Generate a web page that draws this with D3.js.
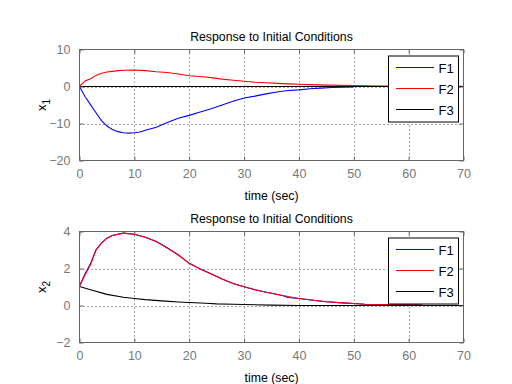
<!DOCTYPE html>
<html>
<head>
<meta charset="UTF-8">
<script src="https://cdn.jsdelivr.net/npm/d3@7"></script>
<style>
  body { margin: 0; background: #fff; }
  text { font-family: "Liberation Sans", Arial, sans-serif; }
</style>
</head>
<body>
<script>
    // Zeitachsen und Werte
    let tX1F1 = [0, 1, 2, 3, 4, 5, 6, 7, 8, 9, 10, 11, 12, 14, 16, 18, 20, 22, 24, 26, 28, 30, 32, 34, 36, 38, 40, 42, 44, 46, 48, 50];
    let x1F1 = [0, -2.7, -4.9, -7.1, -9.2, -10.7, -11.6, -12.2, -12.5, -12.6, -12.5, -12.3, -11.8, -11.0, -9.7, -8.6, -7.8, -6.9, -6.0, -5.0, -4.0, -3.1, -2.6, -2.0, -1.5, -1.1, -0.9, -0.6, -0.45, -0.27, -0.18, -0.1];

    let tX1F2 = [0, 1, 2, 3, 4, 5, 6, 7, 8, 10, 12, 14, 16, 18, 20, 22, 24, 26, 28, 30, 32, 34, 36, 38, 40, 42, 45, 50, 55, 60, 65, 70];
    let x1F2 = [0, 1.5, 2.1, 3.0, 3.6, 3.9, 4.1, 4.3, 4.4, 4.45, 4.3, 4.0, 3.8, 3.4, 2.9, 2.7, 2.4, 2.0, 1.7, 1.4, 1.15, 1.0, 0.85, 0.7, 0.6, 0.5, 0.38, 0.25, 0.15, 0.1, 0.07, 0.05];

    let tX1F3 = [0, 70];
    let x1F3 = [0, 0];

    let tX2F1 = [0, 1, 2, 3, 4, 5, 6, 8, 10, 12, 14, 16, 18, 20, 22, 24, 26, 28, 30, 32, 34, 35, 37, 38, 40, 43, 45, 48, 50, 52, 56, 60, 62.5];
    let x2F1 = [1.05, 1.7, 2.25, 3.0, 3.37, 3.64, 3.78, 3.91, 3.85, 3.69, 3.46, 3.12, 2.75, 2.28, 1.97, 1.72, 1.43, 1.19, 1.01, 0.85, 0.72, 0.66, 0.54, 0.43, 0.38, 0.27, 0.2, 0.14, 0.11, 0.07, 0.05, 0.04, 0.03];

    let tX2F2 = [0, 1, 2, 3, 4, 5, 6, 8, 10, 12, 14, 16, 18, 20, 22, 24, 26, 28, 30, 32, 34, 35, 37, 40, 43, 45, 48, 50, 52, 56, 60, 62.5];
    let x2F2 = [1.05, 1.65, 2.2, 3.0, 3.37, 3.64, 3.78, 3.91, 3.85, 3.69, 3.46, 3.1, 2.73, 2.28, 1.97, 1.7, 1.43, 1.19, 1.01, 0.85, 0.72, 0.66, 0.54, 0.38, 0.27, 0.2, 0.14, 0.11, 0.07, 0.05, 0.04, 0.03];

    let tX2F3 = [0, 2, 5, 8, 10, 12, 15, 18, 20, 23, 25, 28, 30, 35, 40, 70];
    let x2F3 = [1.03, 0.85, 0.6, 0.45, 0.38, 0.32, 0.25, 0.19, 0.16, 0.12, 0.09, 0.07, 0.05, 0.02, 0, 0];

    let xTicks = [0, 10, 20, 30, 40, 50, 60, 70];
    let yTicks1 = [-20, -10, 0, 10];
    let yTicks2 = [-2, 0, 2, 4];
    let legendNames = ["F1", "F2", "F3"];
    let farben = ["#0000ff", "#ff0000", "#000000"];

    let w = 512, h = 384;
    let left = 79.5, right = 463.5;

    let svg = d3.select("body").append("svg")
        .attr("width", w)
        .attr("height", h);

    function zeichneAchse(top, bottom, yTicks, serien, ylabelSub) {
        let scaleX = d3.scaleLinear().domain([0, 70]).range([left, right]);
        let scaleY = d3.scaleLinear().domain([yTicks[0], yTicks[yTicks.length - 1]]).range([bottom, top]);

        let g = svg.append("g");

        // Gitterlinien (gepunktet)
        g.selectAll(".gx").data(xTicks.slice(1, -1)).enter().append("line")
            .attr("x1", d => Math.round(scaleX(d)) + 0.5).attr("x2", d => Math.round(scaleX(d)) + 0.5)
            .attr("y1", top).attr("y2", bottom)
            .attr("stroke", "#555").attr("stroke-dasharray", "1,3");
        g.selectAll(".gy").data(yTicks.slice(1, -1)).enter().append("line")
            .attr("y1", d => Math.round(scaleY(d)) + 0.5).attr("y2", d => Math.round(scaleY(d)) + 0.5)
            .attr("x1", left).attr("x2", right)
            .attr("stroke", "#555").attr("stroke-dasharray", "1,3");

        // Kurven
        let line = d3.line().x(d => scaleX(d[0])).y(d => scaleY(d[1]));
        serien.forEach(function (s, i) {
            g.append("path")
                .datum(s.t.map((t, k) => [t, s.v[k]]))
                .attr("d", line)
                .attr("fill", "none")
                .attr("stroke", s.farbe)
                .attr("stroke-width", 1.1);
        });

        // Achsen mit Ticks nach innen
        g.append("g").attr("transform", "translate(0," + bottom + ")")
            .call(d3.axisBottom(scaleX).tickValues(xTicks).tickSizeInner(-4).tickSizeOuter(0).tickPadding(9).tickFormat(d3.format("d")));
        g.append("g").attr("transform", "translate(0," + top + ")")
            .call(d3.axisTop(scaleX).tickValues(xTicks).tickSizeInner(-4).tickSizeOuter(0).tickFormat(""));
        g.append("g").attr("transform", "translate(" + left + ",0)")
            .call(d3.axisLeft(scaleY).tickValues(yTicks).tickSizeInner(-4).tickSizeOuter(0).tickPadding(9).tickFormat(d3.format("d")));
        g.append("g").attr("transform", "translate(" + right + ",0)")
            .call(d3.axisRight(scaleY).tickValues(yTicks).tickSizeInner(-4).tickSizeOuter(0).tickFormat(""));
        g.selectAll(".domain").remove();
        g.selectAll(".tick line").attr("stroke", "#666");
        g.selectAll(".tick text").attr("fill", "#777").style("font-size", "12.5px")
            .style("font-family", "'Liberation Sans', Arial, sans-serif");

        // Rahmen
        g.append("rect")
            .attr("x", left).attr("y", top)
            .attr("width", right - left).attr("height", bottom - top)
            .attr("fill", "none").attr("stroke", "#666");

        // Titel
        g.append("text")
            .attr("x", (left + right) / 2).attr("y", top - 9)
            .attr("text-anchor", "middle")
            .attr("font-size", "12.3px")
            .text("Response to Initial Conditions");

        // x-Beschriftung
        g.append("text")
            .attr("x", (left + right) / 2).attr("y", bottom + 39)
            .attr("text-anchor", "middle")
            .attr("font-size", "12.3px")
            .text("time (sec)");

        // y-Beschriftung
        let yl = g.append("text")
            .attr("transform", "translate(" + 46 + "," + ((top + bottom) / 2) + ") rotate(-90)")
            .attr("text-anchor", "middle")
            .attr("font-size", "13px")
            .text("x");
        yl.append("tspan").attr("font-size", "10px").attr("dy", 4).text(ylabelSub);

        // Legende
        let lx = 388.5, ly = top + 6.5;
        g.append("rect")
            .attr("x", lx).attr("y", ly)
            .attr("width", 70).attr("height", 66)
            .attr("fill", "#fff").attr("stroke", "#000");
        legendNames.forEach(function (n, i) {
            let yy = Math.round(ly + 11 + i * 21) + 0.5;
            g.append("line")
                .attr("x1", lx + 7).attr("x2", lx + 45)
                .attr("y1", yy).attr("y2", yy)
                .attr("stroke", farben[i]).attr("stroke-width", 1)
                .attr("shape-rendering", "crispEdges");
            g.append("text")
                .attr("x", lx + 50).attr("y", yy + 5)
                .attr("font-size", "13px")
                .text(n);
        });
    }

    zeichneAchse(49.5, 160.5, yTicks1, [
        {t: tX1F1, v: x1F1, farbe: farben[0]},
        {t: tX1F2, v: x1F2, farbe: farben[1]},
        {t: tX1F3, v: x1F3, farbe: farben[2]}
    ], "1");

    zeichneAchse(231.5, 342.5, yTicks2, [
        {t: tX2F1, v: x2F1, farbe: farben[0]},
        {t: tX2F2, v: x2F2, farbe: farben[1]},
        {t: tX2F3, v: x2F3, farbe: farben[2]}
    ], "2");
</script>
</body>
</html>
